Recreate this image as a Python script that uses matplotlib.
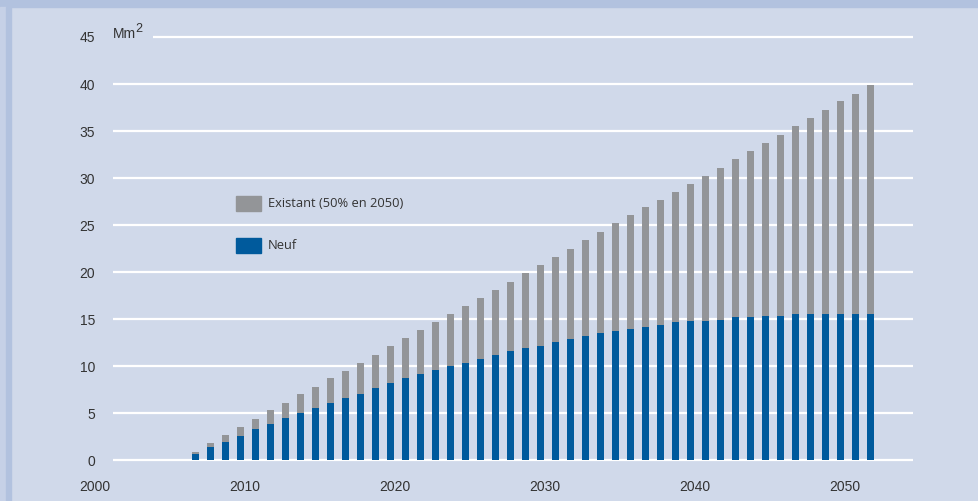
import numpy as np
import matplotlib.pyplot as plt
from matplotlib.patches import Rectangle

# Surfaces cumulées (millions de m2)
annees = np.arange(2007, 2053)
neuf = [0.7, 1.45, 1.98, 2.61, 3.35, 3.88, 4.52, 5.05, 5.58, 6.09,
        6.62, 7.04, 7.67, 8.2, 8.8, 9.2, 9.6, 10.0, 10.4, 10.8,
        11.2, 11.6, 11.9, 12.2, 12.6, 12.9, 13.2, 13.5, 13.8, 14.0,
        14.2, 14.4, 14.7, 14.82, 14.82, 14.93, 15.24, 15.24, 15.35, 15.35,
        15.56, 15.56, 15.56, 15.56, 15.56, 15.56]
total = [0.92, 1.87, 2.71, 3.56, 4.40, 5.35, 6.09, 7.04, 7.78, 8.73,
         9.47, 10.32, 11.16, 12.2, 13.0, 13.9, 14.7, 15.6, 16.4, 17.3,
         18.1, 19.0, 19.9, 20.8, 21.6, 22.5, 23.4, 24.3, 25.2, 26.1,
         26.9, 27.7, 28.5, 29.39, 30.24, 31.10, 32.05, 32.91, 33.76, 34.61,
         35.56, 36.41, 37.27, 38.22, 38.97, 39.93]
existant = np.array(total) - np.array(neuf)

annees_ticks = [2000, 2010, 2020, 2030, 2040, 2050]
y_ticks = [0, 5, 10, 15, 20, 25, 30, 35, 40, 45]

bleu = '#005a9c'
gris = '#939598'
fond = '#d0d9ea'
cadre = '#b2c2df'
texte = '#333333'

W, H = 979, 501
fig = plt.figure(figsize=(W / 100, H / 100), dpi=100, facecolor=fond)


def fx(px):
    return px / W


def fy(py):
    return 1 - py / H


# cadre
fig.patches.append(Rectangle((0, fy(7)), 1, 7 / H, transform=fig.transFigure,
                             color=cadre, zorder=0))
fig.patches.append(Rectangle((0, 0), fx(6), fy(7), transform=fig.transFigure,
                             color='#c6d1e7', zorder=0))
fig.patches.append(Rectangle((fx(6), 0), 5 / W, fy(7), transform=fig.transFigure,
                             color=cadre, zorder=0))

ax = fig.add_axes([fx(113), fy(460.4), fx(913) - fx(113), fy(37) - fy(460.4)])
ax.set_facecolor('none')
for s in ax.spines.values():
    s.set_visible(False)

x_min, x_max = 2001.5, 2054.83

# lignes horizontales
for v in y_ticks:
    x0 = 2004.17 if v == 45 else x_min
    ax.plot([x0, x_max], [v, v], color='white', lw=1.6, zorder=1,
            clip_on=False, solid_capstyle='butt')

ax.bar(annees, neuf, width=0.48, color=bleu, zorder=2)
ax.bar(annees, existant, width=0.48, bottom=neuf, color=gris, zorder=2)

ax.set_yticks(y_ticks)
ax.set_yticklabels([str(v) for v in y_ticks])
ax.set_xticks([])
ax.set_xlim(x_min, x_max)
ax.set_ylim(0, 45)
ax.tick_params(axis='y', length=0, pad=13, labelsize=10, labelcolor=texte)
for lab in ax.get_yticklabels():
    lab.set_family('Liberation Sans')

# années sous l'axe (2000 tombe hors de la zone des barres)
for a in annees_ticks:
    ax.text(a + 0.3, -2.8, str(a), fontsize=10, color=texte, ha='center',
            va='center', family='Liberation Sans', clip_on=False)

ax.text(x_min, 45.3, 'Mm', fontsize=10, color=texte, va='center',
        family='Liberation Sans', clip_on=False)
ax.annotate('2', xy=(x_min, 45.3), xytext=(15.8, 4.0), textcoords='offset points',
            fontsize=9, color=texte, va='center', family='Liberation Sans',
            annotation_clip=False)

# légende
for py, col, lab in [(196, gris, 'Existant (50% en 2050)'), (238, bleu, 'Neuf')]:
    fig.patches.append(Rectangle((fx(236), fy(py + 15)), 25 / W, 15 / H,
                                 transform=fig.transFigure, color=col, zorder=3))
    fig.text(fx(268), fy(py + 7.5), lab, fontsize=9.3, color=texte, va='center',
             family='Open Sans')

fig.savefig('out.png', dpi=100, facecolor=fond)
